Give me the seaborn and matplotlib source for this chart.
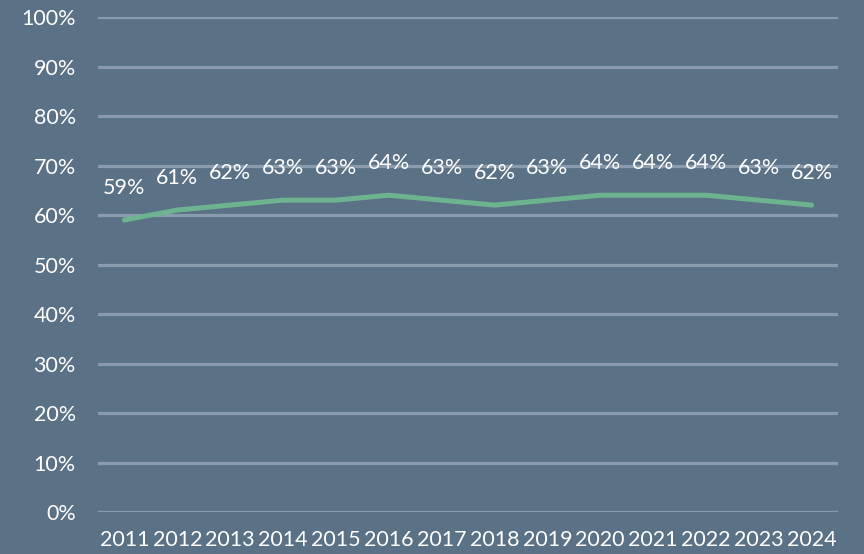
import numpy as np
import pandas as pd
import matplotlib.pyplot as plt
import seaborn as sns

years = ['2011', '2012', '2013', '2014', '2015', '2016', '2017',
         '2018', '2019', '2020', '2021', '2022', '2023', '2024']
share = [59, 61, 62, 63, 63, 64, 63, 62, 63, 64, 64, 64, 63, 62]
y_ticks = [0, 10, 20, 30, 40, 50, 60, 70, 80, 90, 100]

bg = '#5b7186'
grid_col = '#8a9bad'
line_col = '#6db38f'

sns.set_style('white')
plt.rcParams['font.family'] = ['Lato', 'DejaVu Sans']

df = pd.DataFrame({'year': years, 'share': share})

fig = plt.figure(figsize=(8.64, 5.54), dpi=100, facecolor=bg)
ax = fig.add_axes([0.1134, 0.0758, 0.8566, 0.8935])
ax.set_facecolor(bg)

sns.lineplot(data=df, x='year', y='share', ax=ax, color=line_col,
             linewidth=3.6, sort=False, solid_capstyle='round',
             solid_joinstyle='round', zorder=3)

for i, v in enumerate(share):
    ax.annotate(f'{v}%', (i, v), xytext=(0, 23), textcoords='offset points',
                ha='center', va='center', color='white', fontsize=15.5)

ax.set_ylim(0, 100)
ax.set_xlim(-0.5, len(years) - 0.5)
ax.set_yticks(y_ticks)
ax.set_yticklabels([f'{t}%' for t in y_ticks])
ax.yaxis.grid(True, color=grid_col, linewidth=2.3)
ax.xaxis.grid(False)
ax.set_axisbelow(True)
ax.tick_params(axis='both', colors='white', labelsize=15.5, length=0)
ax.tick_params(axis='y', pad=16)
ax.tick_params(axis='x', pad=13)
ax.set_xlabel('')
ax.set_ylabel('')
for s in ax.spines.values():
    s.set_visible(False)

fig.savefig('out.png', dpi=100, facecolor=bg)
